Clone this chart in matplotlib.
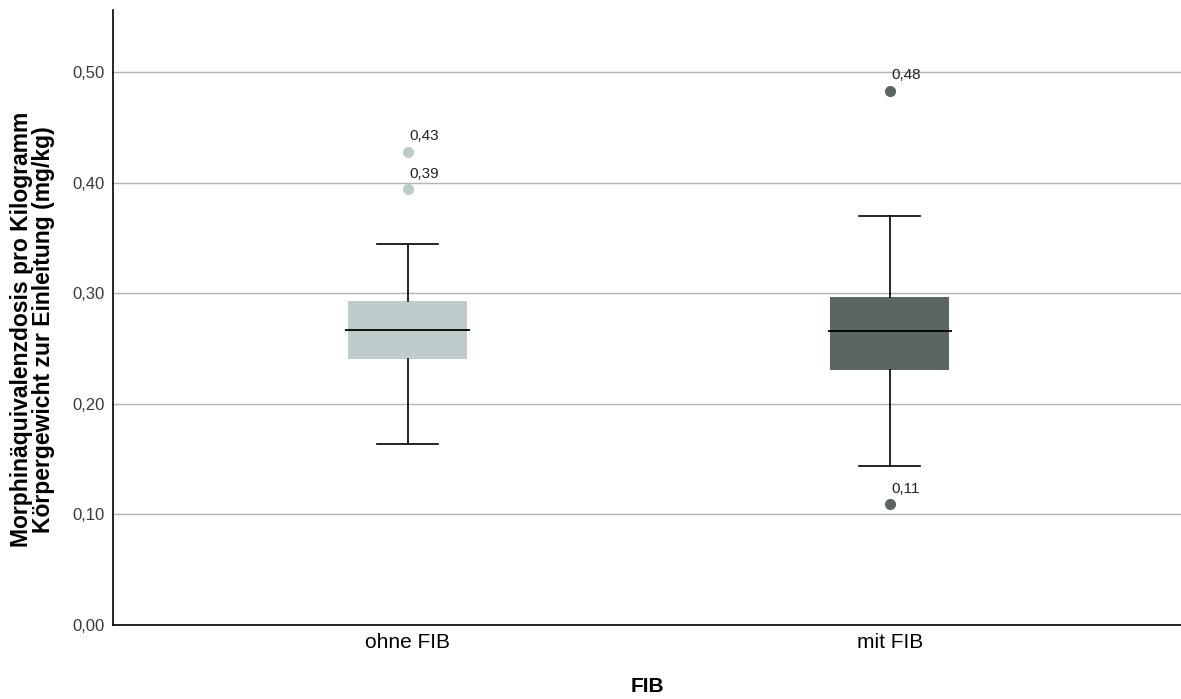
import matplotlib.pyplot as plt
from matplotlib.ticker import FuncFormatter

# dose per kg at induction, summary stats per group
groups = ["ohne FIB", "mit FIB"]
whisker_low = [0.164, 0.144]
q1 = [0.2405, 0.2306]
median = [0.267, 0.2658]
q3 = [0.2932, 0.2968]
whisker_high = [0.3445, 0.3698]
outliers = [[0.428, 0.394], [0.483, 0.109]]
box_colors = ["#bdcbcb", "#5b6661"]

plt.rcParams["font.family"] = ["Liberation Sans", "DejaVu Sans"]


def main():
    fig = plt.figure(figsize=(11.81, 6.99), dpi=100)
    ax = fig.add_axes([113 / 1181, 1 - 625 / 699, 1068 / 1181, 615 / 699])

    stats = []
    for i, name in enumerate(groups):
        stats.append({
            "label": name,
            "whislo": whisker_low[i],
            "q1": q1[i],
            "med": median[i],
            "q3": q3[i],
            "whishi": whisker_high[i],
            "fliers": [],
        })

    positions = [1, 2]
    bp = ax.bxp(stats, positions=positions, widths=0.246, capwidths=0.126,
                patch_artist=True, showfliers=False,
                medianprops=dict(color="black", linewidth=1.3),
                whiskerprops=dict(color="black", linewidth=1.2),
                capprops=dict(color="black", linewidth=1.2),
                boxprops=dict(linewidth=0))
    for patch, c in zip(bp["boxes"], box_colors):
        patch.set_facecolor(c)
        patch.set_edgecolor(c)
    for line in bp["medians"]:
        x0, x1 = line.get_xdata()[0], line.get_xdata()[1]
        line.set_xdata([x0 - 0.006, x1 + 0.006])

    # outlier points with their values
    for pos, vals, c in zip(positions, outliers, box_colors):
        for v in vals:
            ax.plot(pos, v, "o", color=c, markersize=7, zorder=4)
            ax.annotate(f"{v:.2f}".replace(".", ","), (pos, v),
                        xytext=(1, 6), textcoords="offset points",
                        fontsize=11, color="#222222", ha="left", va="bottom")

    ax.set_xlim(0.389, 2.604)
    ax.set_ylim(0, 0.556)
    ax.set_yticks([0, 0.1, 0.2, 0.3, 0.4, 0.5])
    ax.yaxis.set_major_formatter(FuncFormatter(lambda v, p: f"{v:.2f}".replace(".", ",")))
    ax.set_xticks(positions)
    ax.set_xticklabels(groups, fontsize=15)
    ax.tick_params(axis="y", length=0, pad=6, labelsize=12, labelcolor="#3a3a3a")
    ax.tick_params(axis="x", length=0, pad=6)

    ax.grid(axis="y", color="#b4b4b4", linewidth=1)
    ax.set_axisbelow(True)
    for side in ["top", "right"]:
        ax.spines[side].set_visible(False)
    for side in ["left", "bottom"]:
        ax.spines[side].set_color("black")
        ax.spines[side].set_linewidth(1.2)

    ax.set_ylabel("Morphinäquivalenzdosis pro Kilogramm\nKörpergewicht zur Einleitung (mg/kg)",
                  fontsize=16.5, fontweight="bold", linespacing=0.98)
    ax.yaxis.set_label_coords(-0.054, 0.48)
    ax.set_xlabel("FIB", fontsize=15, fontweight="bold", labelpad=18)

    fig.savefig("out.png", dpi=100)


if __name__ == "__main__":
    main()
